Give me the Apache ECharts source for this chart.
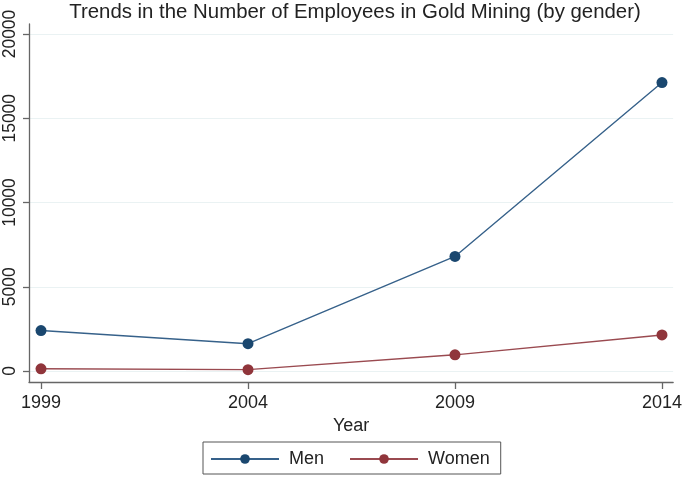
<!DOCTYPE html>
<html><head><meta charset="utf-8">
<script src="https://cdn.jsdelivr.net/npm/echarts@6/dist/echarts.min.js"></script>
<style>html,body{margin:0;padding:0;background:#fff}#c{width:685px;height:477px}</style>
</head><body><div id="c"></div>
<script>
const years = [1999, 2004, 2009, 2014];
const men = [2400, 1620, 6800, 17120];
const women = [130, 80, 960, 2140];
const yTicks = [0, 5000, 10000, 15000, 20000];
const xTicks = [1999, 2004, 2009, 2014];

const font = 'Liberation Sans, Arial, sans-serif';
const txt = '#222';
const chart = echarts.init(document.getElementById('c'));
chart.setOption({
  animation: false,
  backgroundColor: '#fff',
  title: {
    text: 'Trends in the Number of Employees in Gold Mining (by gender)',
    left: 350, top: -3, textAlign: 'center',
    textStyle: {fontFamily: font, fontSize: 20.4, fontWeight: 'normal', color: txt}
  },
  grid: {left: 29, right: 10, top: 24, bottom: 95},
  legend: {
    data: ['Men', 'Women'],
    bottom: 3, left: 203,
    borderColor: '#555', borderWidth: 1,
    padding: [8, 11, 6, 7],
    itemWidth: 68, itemHeight: 12, itemGap: 25,
    textStyle: {fontFamily: font, fontSize: 18, color: txt, padding: [0, 0, 0, 5]}
  },
  xAxis: {
    type: 'value', min: 1998.71, max: 2014.27,
    name: 'Year', nameLocation: 'middle', nameGap: 33,
    nameTextStyle: {fontFamily: font, fontSize: 18, color: txt},
    axisLine: {show: true, onZero: false, lineStyle: {color: '#666', width: 1.3}},
    axisTick: {show: true, customValues: xTicks, length: 7, lineStyle: {color: '#666', width: 1.3}},
    axisLabel: {customValues: xTicks, formatter: v => String(v), fontFamily: font, fontSize: 18, color: txt, margin: 12},
    splitLine: {show: false}
  },
  yAxis: {
    type: 'value', min: -653, max: 20594,
    axisLine: {show: true, onZero: false, lineStyle: {color: '#666', width: 1.3}},
    axisTick: {show: true, customValues: yTicks, length: 6, lineStyle: {color: '#666', width: 1.3}},
    axisLabel: {customValues: yTicks, formatter: v => String(v), rotate: 90, fontFamily: font, fontSize: 17.5, color: txt, margin: 10},
    splitLine: {show: false}
  },
  series: [
    {
      type: 'line', name: 'grid', data: [], silent: true, z: 0, zlevel: 0,
      markLine: {
        silent: true, symbol: 'none', label: {show: false}, z: 0,
        lineStyle: {color: '#eaf2f3', width: 1, type: 'solid'},
        data: yTicks.map(v => ({yAxis: v}))
      }
    },
    {
      type: 'line', name: 'Men', data: years.map((y, i) => [y, men[i]]), z: 5,
      symbol: 'circle', symbolSize: 11, showSymbol: true,
      itemStyle: {color: '#1a476f'},
      lineStyle: {color: '#36618a', width: 1.4}
    },
    {
      type: 'line', name: 'Women', data: years.map((y, i) => [y, women[i]]), z: 5,
      symbol: 'circle', symbolSize: 11, showSymbol: true,
      itemStyle: {color: '#90353b'},
      lineStyle: {color: '#9a4a50', width: 1.4}
    }
  ]
});
</script></body></html>
